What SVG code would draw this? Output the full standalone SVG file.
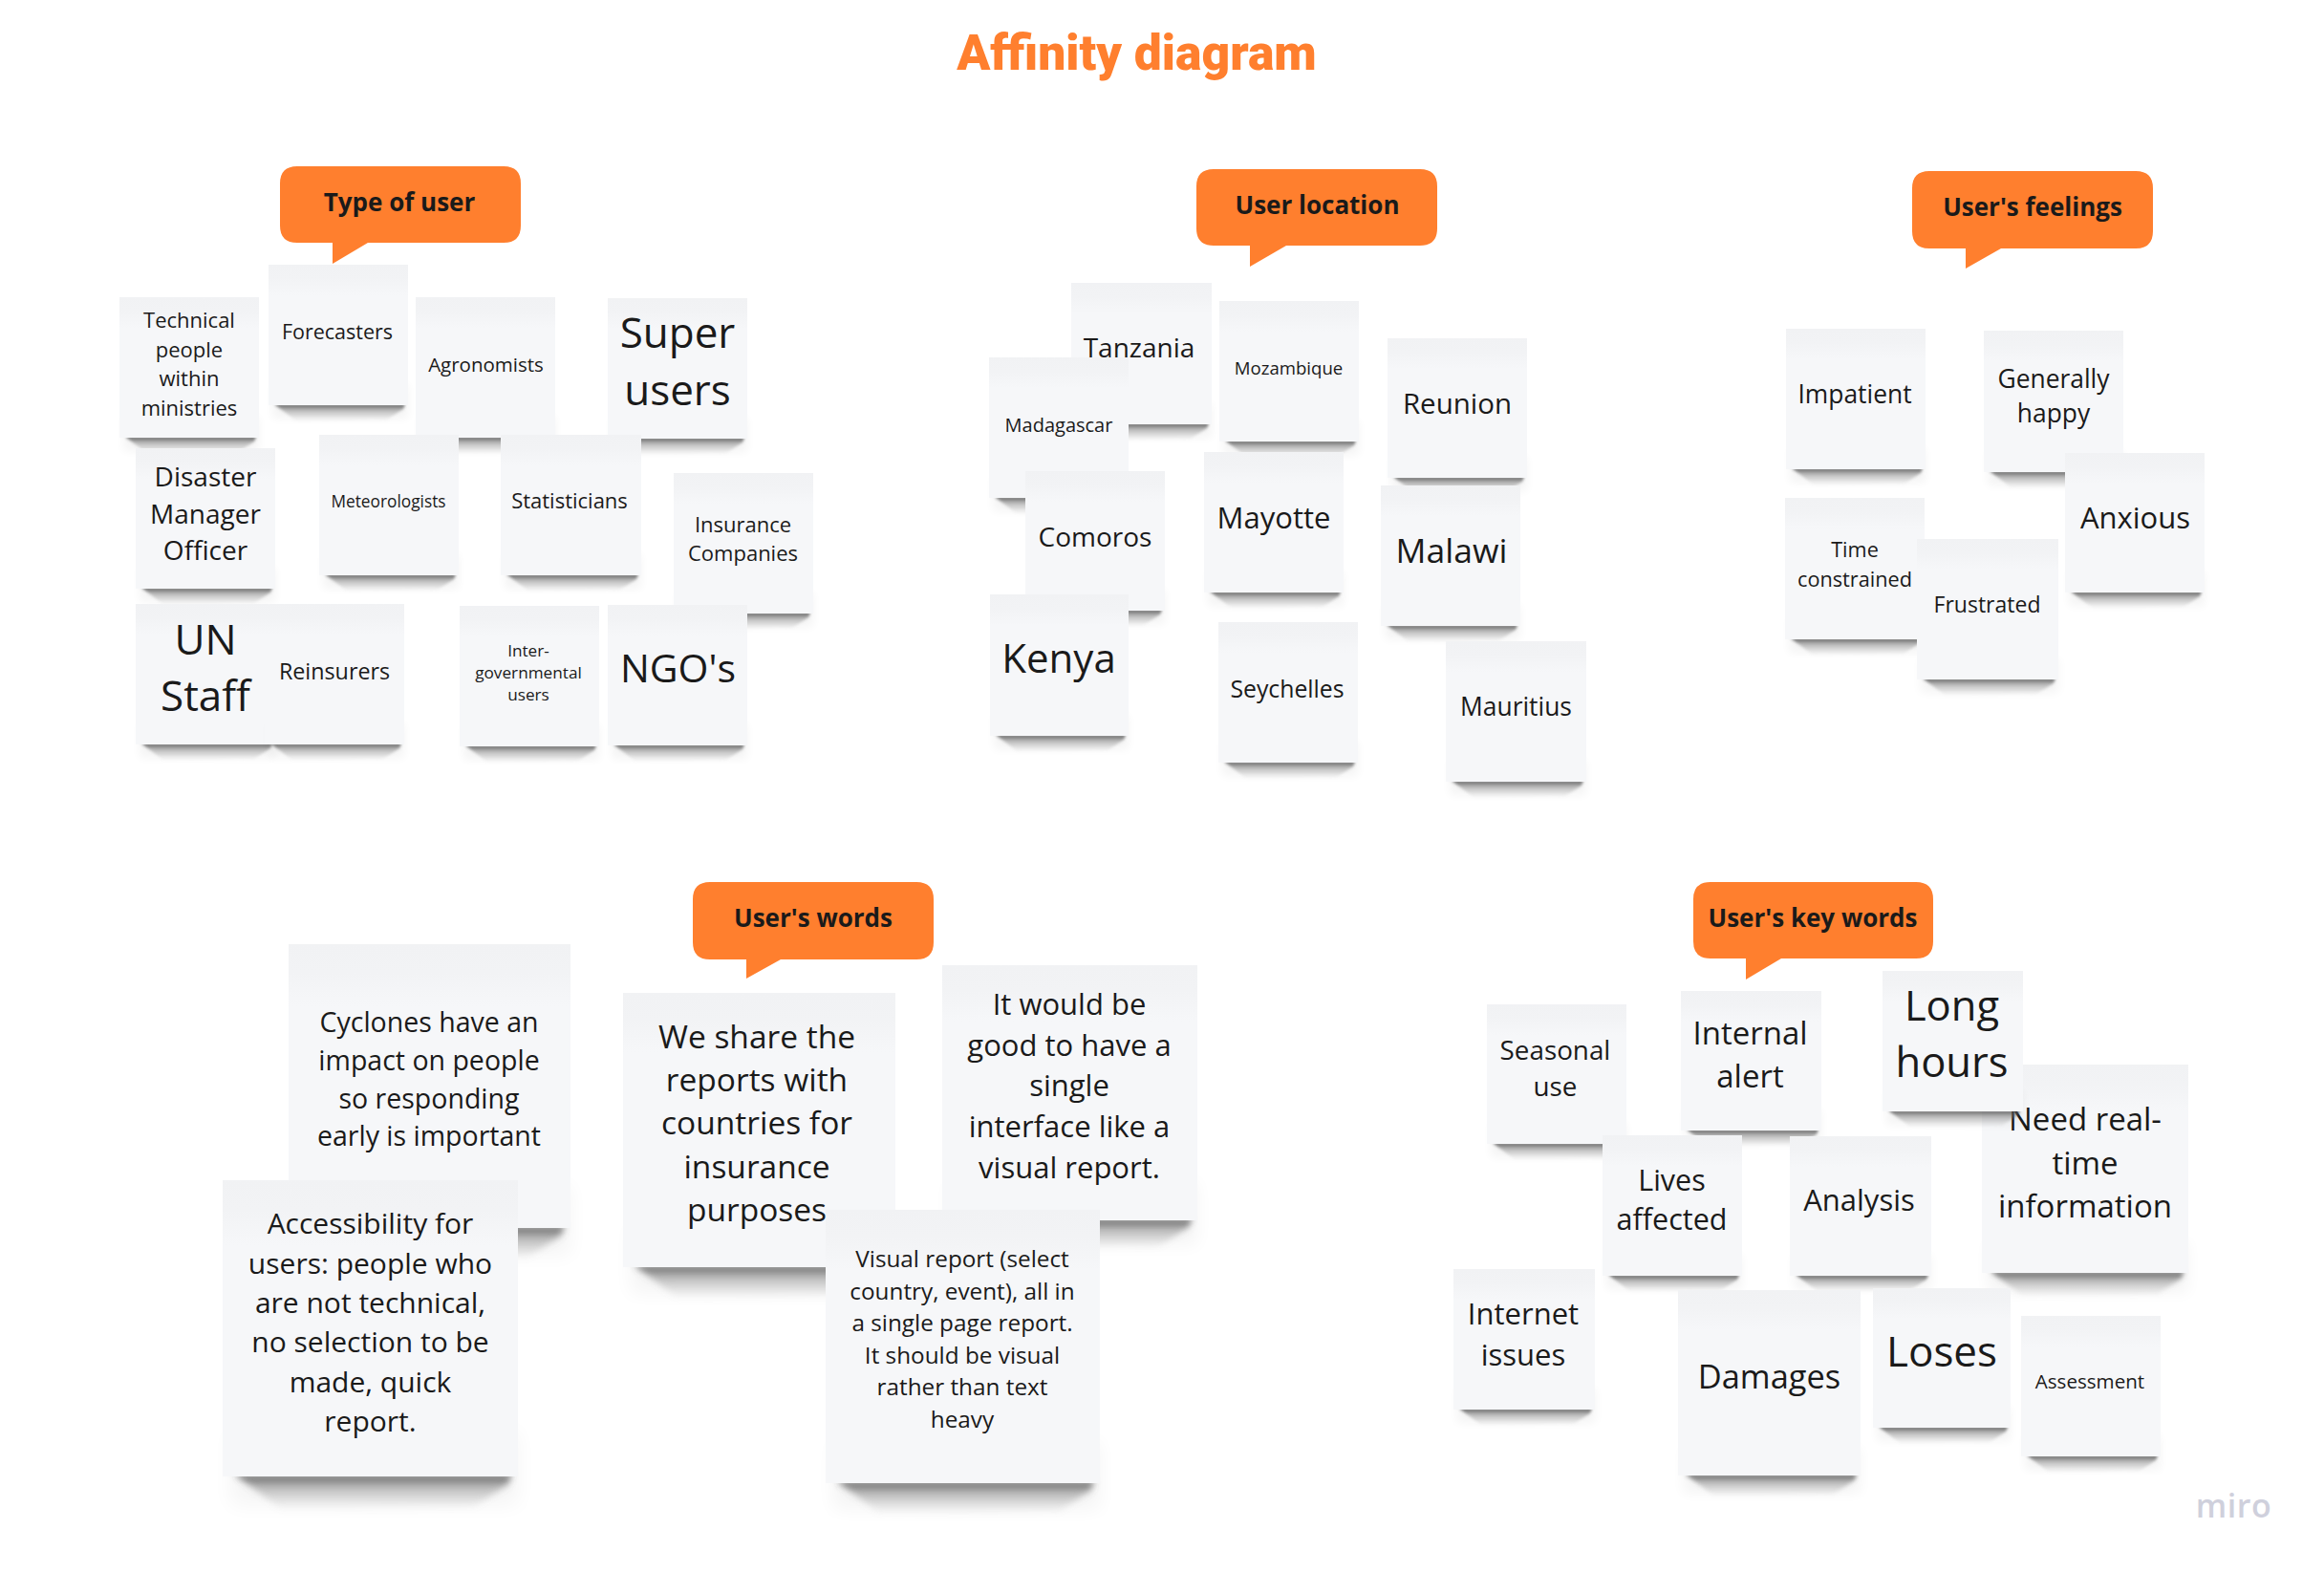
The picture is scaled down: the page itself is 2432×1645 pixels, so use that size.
<svg xmlns="http://www.w3.org/2000/svg" width="2432" height="1645" viewBox="0 0 2432 1645">
<style>
.t{font-family:"Open Sans","Noto Sans","Liberation Sans",sans-serif;fill:#1a1a1a;text-anchor:middle}
.h{font-family:"Open Sans","Noto Sans","Liberation Sans",sans-serif;font-weight:700;fill:#1a1a1a;text-anchor:middle}
.b{fill:#ff7f2e}
</style>
<defs>
<linearGradient id="band" x1="0" y1="0" x2="0" y2="1"><stop offset="0" stop-color="#f1f2f4"/><stop offset="0.1" stop-color="#f2f3f5"/><stop offset="0.22" stop-color="#f6f7f9"/><stop offset="1" stop-color="#f6f7f9"/></linearGradient>
<linearGradient id="sh" x1="0" y1="0" x2="0" y2="1"><stop offset="0" stop-color="#3c3c3c" stop-opacity=".85"/><stop offset=".35" stop-color="#707070" stop-opacity=".45"/><stop offset="1" stop-color="#a0a0a0" stop-opacity="0"/></linearGradient>
<filter id="bl" x="-20%" y="-100%" width="140%" height="300%"><feGaussianBlur stdDeviation="1.8"/></filter>
<filter id="bl2" x="-20%" y="-100%" width="140%" height="300%"><feGaussianBlur stdDeviation="5"/></filter>
<symbol id="note" viewBox="0 0 146 147" preserveAspectRatio="none" style="overflow:visible">
<rect x="4" y="125" width="142" height="36" fill="#000" opacity=".04" filter="url(#bl2)"/>
<path d="M6 146L143 146L141 151L124 162L30 164Z" fill="url(#sh)" filter="url(#bl)"/>
<rect width="146" height="147" fill="url(#band)"/>
</symbol>
</defs>
<rect width="2432" height="1645" fill="#ffffff"/>
<text id="title" x="1189.5" y="73" font-size="51.6" text-anchor="middle" style="font-family:Roboto,'Open Sans',sans-serif;font-weight:900;fill:#ff7f2e">Affinity diagram</text>

<g id="group-type-of-user">
<g id="bubble-type"><path class="b" d="M311 174H527Q545 174 545 192V236Q545 254 527 254H385L348 276V254H311Q293 254 293 236V192Q293 174 311 174Z"/><text class="h" x="418" y="221" font-size="26">Type of user</text></g>
<g id="n-technical"><use href="#note" x="125" y="311" width="146" height="147"/><text class="t" font-size="22"><tspan x="198" y="343">Technical</tspan><tspan x="198" y="373.5">people</tspan><tspan x="198" y="404">within</tspan><tspan x="198" y="434.5">ministries</tspan></text></g>
<g id="n-forecasters"><use href="#note" x="281" y="277" width="146" height="147"/><text class="t" font-size="21.5" x="353" y="355">Forecasters</text></g>
<g id="n-agronomists"><use href="#note" x="435" y="311" width="146" height="147"/><text class="t" font-size="20.5" x="508.5" y="389">Agronomists</text></g>
<g id="n-super"><use href="#note" x="636" y="312" width="146" height="147"/><text class="t" font-size="44"><tspan x="709" y="363.5">Super</tspan><tspan x="709" y="423.5">users</tspan></text></g>
<g id="n-disaster"><use href="#note" x="142" y="469" width="146" height="147"/><text class="t" font-size="28"><tspan x="215" y="509">Disaster</tspan><tspan x="215" y="547.5">Manager</tspan><tspan x="215" y="586">Officer</tspan></text></g>
<g id="n-meteorologists"><use href="#note" x="334" y="455" width="146" height="147"/><text class="t" font-size="17.3" x="406.5" y="531">Meteorologists</text></g>
<g id="n-statisticians"><use href="#note" x="524" y="455" width="147" height="147"/><text class="t" font-size="22" x="596" y="532">Statisticians</text></g>
<g id="n-insurance"><use href="#note" x="705" y="495" width="146" height="147"/><text class="t" font-size="22"><tspan x="777.5" y="557">Insurance</tspan><tspan x="777.5" y="587">Companies</tspan></text></g>
<g id="n-un"><use href="#note" x="142" y="632" width="146" height="147"/><text class="t" font-size="44"><tspan x="215" y="684.5">UN</tspan><tspan x="215" y="744">Staff</tspan></text></g>
<g id="n-reinsurers"><use href="#note" x="277" y="632" width="146" height="147"/><text class="t" font-size="23.3" x="350" y="710.5">Reinsurers</text></g>
<g id="n-intergov"><use href="#note" x="481" y="634" width="146" height="147"/><text class="t" font-size="17.2"><tspan x="553" y="686.5">Inter-</tspan><tspan x="553" y="710">governmental</tspan><tspan x="553" y="733">users</tspan></text></g>
<g id="n-ngo"><use href="#note" x="636" y="633" width="146" height="147"/><text class="t" font-size="41" x="709.5" y="714">NGO's</text></g>
</g>

<g id="group-user-location">
<g id="bubble-location"><path class="b" d="M1270 177H1486Q1504 177 1504 195V239Q1504 257 1486 257H1346L1308 279V257H1270Q1252 257 1252 239V195Q1252 177 1270 177Z"/><text class="h" x="1378.5" y="224" font-size="26">User location</text></g>
<g id="n-tanzania"><use href="#note" x="1121" y="296" width="147" height="148"/><text class="t" font-size="28" x="1192" y="374">Tanzania</text></g>
<g id="n-mozambique"><use href="#note" x="1276" y="315" width="146" height="147"/><text class="t" font-size="18.6" x="1348.5" y="391.5">Mozambique</text></g>
<g id="n-reunion"><use href="#note" x="1452" y="354" width="146" height="146"/><text class="t" font-size="29.5" x="1525" y="433">Reunion</text></g>
<g id="n-madagascar"><use href="#note" x="1035" y="374" width="146" height="147"/><text class="t" font-size="20" x="1108" y="451.5">Madagascar</text></g>
<g id="n-comoros"><use href="#note" x="1073" y="493" width="146" height="146"/><text class="t" font-size="28" x="1146" y="571.5">Comoros</text></g>
<g id="n-mayotte"><use href="#note" x="1260" y="473" width="146" height="147"/><text class="t" font-size="31" x="1333" y="553">Mayotte</text></g>
<g id="n-malawi"><use href="#note" x="1445" y="508" width="146" height="147"/><text class="t" font-size="35.5" x="1519" y="589">Malawi</text></g>
<g id="n-kenya"><use href="#note" x="1036" y="622" width="145" height="148"/><text class="t" font-size="42" x="1108" y="703.5">Kenya</text></g>
<g id="n-seychelles"><use href="#note" x="1275" y="651" width="146" height="147"/><text class="t" font-size="24.8" x="1347" y="729.5">Seychelles</text></g>
<g id="n-mauritius"><use href="#note" x="1513" y="671" width="147" height="147"/><text class="t" font-size="26.4" x="1586.5" y="749">Mauritius</text></g>
</g>

<g id="group-feelings">
<g id="bubble-feelings"><path class="b" d="M2019 179H2235Q2253 179 2253 197V242Q2253 260 2235 260H2094L2057 281V260H2019Q2001 260 2001 242V197Q2001 179 2019 179Z"/><text class="h" x="2127" y="226" font-size="26">User's feelings</text></g>
<g id="n-impatient"><use href="#note" x="1869" y="344" width="146" height="147"/><text class="t" font-size="26.4" x="1941" y="421.5">Impatient</text></g>
<g id="n-generally"><use href="#note" x="2076" y="346" width="146" height="148"/><text class="t" font-size="26.4"><tspan x="2149" y="405.5">Generally</tspan><tspan x="2149" y="441.5">happy</tspan></text></g>
<g id="n-anxious"><use href="#note" x="2161" y="474" width="146" height="146"/><text class="t" font-size="31" x="2234.5" y="552.5">Anxious</text></g>
<g id="n-time"><use href="#note" x="1868" y="521" width="146" height="148"/><text class="t" font-size="21.7"><tspan x="1941" y="583">Time</tspan><tspan x="1941" y="614">constrained</tspan></text></g>
<g id="n-frustrated"><use href="#note" x="2006" y="564" width="148" height="147"/><text class="t" font-size="23" x="2079.5" y="641">Frustrated</text></g>
</g>

<g id="group-words">
<g id="bubble-words"><path class="b" d="M743 923H959Q977 923 977 941V986Q977 1004 959 1004H817L781 1024V1004H743Q725 1004 725 986V941Q725 923 743 923Z"/><text class="h" x="851" y="970" font-size="26">User's words</text></g>
<g id="n-cyclones"><use href="#note" x="302" y="988" width="295" height="297"/><text class="t" font-size="28.5"><tspan x="449" y="1080">Cyclones have an</tspan><tspan x="449" y="1120">impact on people</tspan><tspan x="449" y="1160">so responding</tspan><tspan x="449" y="1199">early is important</tspan></text></g>
<g id="n-accessibility"><use href="#note" x="233" y="1235" width="309" height="310"/><text class="t" font-size="30"><tspan x="387.5" y="1291">Accessibility for</tspan><tspan x="387.5" y="1333">users: people who</tspan><tspan x="387.5" y="1374">are not technical,</tspan><tspan x="387.5" y="1415">no selection to be</tspan><tspan x="387.5" y="1457">made, quick</tspan><tspan x="387.5" y="1498">report.</tspan></text></g>
<g id="n-weshare"><use href="#note" x="652" y="1039" width="285" height="287"/><text class="t" font-size="33.5"><tspan x="792" y="1096.5">We share the</tspan><tspan x="792" y="1141.5">reports with</tspan><tspan x="792" y="1187">countries for</tspan><tspan x="792" y="1232.5">insurance</tspan><tspan x="792" y="1277.5">purposes</tspan></text></g>
<g id="n-itwould"><use href="#note" x="986" y="1010" width="267" height="267"/><text class="t" font-size="31"><tspan x="1119" y="1061.5">It would be</tspan><tspan x="1119" y="1104.5">good to have a</tspan><tspan x="1119" y="1147">single</tspan><tspan x="1119" y="1190">interface like a</tspan><tspan x="1119" y="1232.5">visual report.</tspan></text></g>
<g id="n-visual"><use href="#note" x="864" y="1266" width="287" height="286"/><text class="t" font-size="24.3"><tspan x="1007" y="1326">Visual report (select</tspan><tspan x="1007" y="1360">country, event), all in</tspan><tspan x="1007" y="1393">a single page report.</tspan><tspan x="1007" y="1427">It should be visual</tspan><tspan x="1007" y="1460">rather than text</tspan><tspan x="1007" y="1494">heavy</tspan></text></g>
</g>

<g id="group-keywords">
<g id="bubble-keywords"><path class="b" d="M1790 923H2005Q2023 923 2023 941V985Q2023 1003 2005 1003H1864L1827 1025V1003H1790Q1772 1003 1772 985V941Q1772 923 1790 923Z"/><text class="h" x="1897" y="970" font-size="26">User's key words</text></g>
<g id="n-seasonal"><use href="#note" x="1556" y="1051" width="146" height="146"/><text class="t" font-size="27.8"><tspan x="1627.5" y="1109">Seasonal</tspan><tspan x="1627.5" y="1147">use</tspan></text></g>
<g id="n-internal"><use href="#note" x="1759" y="1037" width="147" height="146"/><text class="t" font-size="33"><tspan x="1831.5" y="1092.5">Internal</tspan><tspan x="1831.5" y="1137.5">alert</tspan></text></g>
<g id="n-need"><use href="#note" x="2074" y="1114" width="216" height="218"/><text class="t" font-size="33"><tspan x="2182" y="1183">Need real-</tspan><tspan x="2182" y="1228.5">time</tspan><tspan x="2182" y="1274">information</tspan></text></g>
<g id="n-long"><use href="#note" x="1970" y="1016" width="147" height="147"/><text class="t" font-size="43.5"><tspan x="2042.5" y="1067.5">Long</tspan><tspan x="2042.5" y="1126.5">hours</tspan></text></g>
<g id="n-lives"><use href="#note" x="1677" y="1188" width="146" height="147"/><text class="t" font-size="30.5"><tspan x="1749.5" y="1245.5">Lives</tspan><tspan x="1749.5" y="1287">affected</tspan></text></g>
<g id="n-analysis"><use href="#note" x="1873" y="1189" width="148" height="146"/><text class="t" font-size="31" x="1945.5" y="1267">Analysis</text></g>
<g id="n-internet"><use href="#note" x="1521" y="1328" width="148" height="147"/><text class="t" font-size="31"><tspan x="1594" y="1386">Internet</tspan><tspan x="1594" y="1428.5">issues</tspan></text></g>
<g id="n-damages"><use href="#note" x="1756" y="1350" width="191" height="194"/><text class="t" font-size="34.4" x="1851.5" y="1453">Damages</text></g>
<g id="n-loses"><use href="#note" x="1960" y="1348" width="144" height="146"/><text class="t" font-size="44" x="2032" y="1430">Loses</text></g>
<g id="n-assessment"><use href="#note" x="2115" y="1377" width="146" height="147"/><text class="t" font-size="20.6" x="2187" y="1453">Assessment</text></g>
</g>
<text id="miro" x="2337.5" y="1587.5" font-size="34" font-weight="600" text-anchor="middle" style="font-family:'Open Sans','Liberation Sans',sans-serif;fill:#cfd0dc;letter-spacing:.5px">miro</text>
</svg>
